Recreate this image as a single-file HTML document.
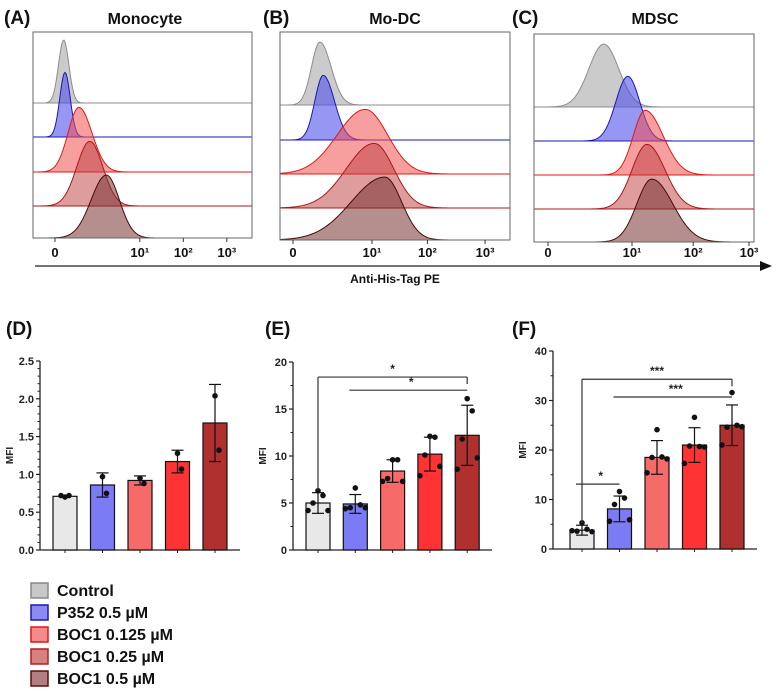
<!DOCTYPE html>
<html><head><meta charset="utf-8">
<style>
html,body{margin:0;padding:0;background:#fff;}
svg{display:block;font-family:"Liberation Sans",Arial,sans-serif;}
</style></head>
<body>
<svg id="fig" width="777" height="699" viewBox="0 0 777 699" xmlns="http://www.w3.org/2000/svg"></svg>
<script>
// ===== Histogram data (display units, peak height in row-units) =====
const histSeries = ["Control","P352 0.5 µM","BOC1 0.125 µM","BOC1 0.25 µM","BOC1 0.5 µM"];
const histCentersA = [0.2, 0.23, 0.55, 0.8, 1.18];
const histCentersB = [0.48, 0.54, 1.29, 1.45, 1.64];
const histCentersC = [0.93, 1.33, 1.62, 1.65, 1.73];
const histSigLA = [0.12, 0.12, 0.25, 0.3, 0.35];
const histSigRA = [0.12, 0.12, 0.3, 0.3, 0.3];
const histSigLB = [0.15, 0.15, 0.5, 0.5, 0.6];
const histSigRB = [0.2, 0.2, 0.4, 0.35, 0.3];
const histSigLC = [0.25, 0.2, 0.2, 0.25, 0.25];
const histSigRC = [0.25, 0.2, 0.3, 0.3, 0.35];
const histHeights = [1.85, 1.9, 1.9, 1.9, 1.85];
const tickLabels = ["0","10¹","10²","10³"];
const tickUA = [0, 1.95, 2.95, 3.95];
const tickUB = [0, 1.41, 2.4, 3.43];
const tickUC = [0, 1.4, 2.42, 3.35];

// ===== Bar chart data =====
const groups = ["Control","P352 0.5 µM","BOC1 0.125 µM","BOC1 0.25 µM","BOC1 0.5 µM"];
const meanD = [0.71, 0.86, 0.92, 1.17, 1.68];
const sdD = [0.01, 0.16, 0.06, 0.15, 0.51];
const ptsD = [[0.70,0.72,0.72],[0.97,0.75],[0.95,0.88],[1.28,1.07],[2.04,1.32]];
const ticksD = [0, 0.5, 1.0, 1.5, 2.0, 2.5];
const tickLabD = ["0.0","0.5","1.0","1.5","2.0","2.5"];
const meanE = [5.0, 4.9, 8.4, 10.2, 12.2];
const sdE = [1.1, 1.0, 1.2, 1.8, 3.2];
const ptsE = [[6.3,5.8,5.0,4.2,4.2],[6.6,4.8,4.5,4.5,4.4],[9.6,9.6,7.6,7.3,7.3],[12.1,12.0,10.1,8.9,7.9],[16.1,14.8,11.8,9.8,8.6]];
const ticksE = [0,5,10,15,20];
const meanF = [3.8, 8.1, 18.5, 21.0, 25.0];
const sdF = [1.0, 2.6, 3.4, 3.5, 4.1];
const ptsF = [[5.3,4.0,3.6,3.5,3.7],[11.6,10.3,9.0,5.9,5.6],[24.1,18.6,18.5,18.2,15.4],[26.6,20.7,20.8,20.6,17.3],[31.6,25.0,24.6,24.7,21.0]];
const ticksF = [0,10,20,30,40];
const sigE = [[0,4,18.4,"*",true],[1,4,17.0,"*",false]];
const sigF = [[0,4,34.3,"***",true],[1,4,30.7,"***",false],[0,1,13.1,"*",false]];

const NS="http://www.w3.org/2000/svg";
const svg=document.getElementById('fig');
function mk(tag,attrs,parent){const e=document.createElementNS(NS,tag);for(const k in attrs)e.setAttribute(k,attrs[k]);(parent||svg).appendChild(e);return e;}
function txt(s,x,y,attrs,parent){const e=mk('text',Object.assign({x:x,y:y},attrs),parent);e.textContent=s;return e;}

const fills=["rgba(185,185,185,0.75)","rgba(80,80,235,0.6)","rgba(240,80,80,0.55)","rgba(190,60,60,0.5)","rgba(120,50,50,0.55)"];
const strokes=["#8c8c8c","#1a1ab0","#e01818","#a81818","#4a0a0a"];
const barFills=["#e8e8e8","#7b7bf5","#f76a6a","#ff3333","#b03030"];

// ===== Histogram panels =====
const panels=[
 {lab:"(A)",labx:4,title:"Monocyte",tx:145,x1:33,x2:252,y1:32,y2:238,x0:55,dec:43.5,rows:[103,137,172,206,238],c:histCentersA,sl:histSigLA,sr:histSigRA,t:tickUA,name:"monocyte"},
 {lab:"(B)",labx:263,title:"Mo-DC",tx:395,x1:280,x2:510,y1:32,y2:240,x0:293,dec:56,rows:[105,140,174,208,240],c:histCentersB,sl:histSigLB,sr:histSigRB,t:tickUB,name:"mo-dc"},
 {lab:"(C)",labx:512,title:"MDSC",tx:655,x1:534,x2:754,y1:34,y2:242,x0:548,dec:60,rows:[107,141,175,209,242],c:histCentersC,sl:histSigLC,sr:histSigRC,t:tickUC,name:"mdsc"}
];
panels.forEach(p=>{
  const g=mk('g',{});
  
  
  const l=txt(p.lab,p.labx,24,{'font-size':19,'font-weight':'bold',fill:'#111'},g);
  
  const t=txt(p.title,p.tx,24,{'font-size':16,'font-weight':'bold','text-anchor':'middle',fill:'#111'},g);
  
  const xs=u=>p.x0+u*p.dec;
  const rowH=34;
  for(let i=0;i<5;i++){
    const base=p.rows[i];
    let d="M"+p.x1+","+base;
    for(let x=p.x1;x<=p.x2;x+=1){
      const u=(x-p.x0)/p.dec;const s=u<p.c[i]?p.sl[i]:p.sr[i];
      const h=histHeights[i]*rowH*Math.exp(-0.5*Math.pow((u-p.c[i])/s,2));
      d+=" L"+x+","+(base-h).toFixed(2);
    }
    d+=" L"+p.x2+","+base+" Z";
    const path=mk('path',{d:d,fill:fills[i],stroke:strokes[i],'stroke-width':1},g);
    
    
  }
  const box=mk('rect',{x:p.x1,y:p.y1,width:p.x2-p.x1,height:p.y2-p.y1,fill:'none',stroke:'#666','stroke-width':1},g);
  
  p.t.forEach((u,k)=>{
    const x=xs(u);
    mk('line',{x1:x,x2:x,y1:p.y2,y2:p.y2+4,stroke:'#333'},g);
    const tl=txt(tickLabels[k],x,257,{'font-size':13,'font-weight':'bold','text-anchor':'middle',fill:'#111'},g);
    
  });
});
const ax=mk('line',{x1:35,x2:762,y1:266,y2:266,stroke:'#222','stroke-width':1.2});

mk('polygon',{points:"760,261 772,266 760,271",fill:'#111'});
const xl=txt("Anti-His-Tag PE",395,283,{'font-size':12,'font-weight':'bold','text-anchor':'middle',fill:'#111'});


// ===== Bar charts =====
function barChart(o){
  const g=mk('g',{});
  
  
  const ys=v=>o.y0-(v/o.max)*(o.y0-o.ytop);
  const xs=i=>o.cx0+i*o.step;
  const l=txt(o.lab,o.labx,335,{'font-size':19,'font-weight':'bold',fill:'#111'},g);
  
  mk('line',{x1:o.ax,x2:o.ax,y1:o.ytop,y2:o.y0,stroke:'#222','stroke-width':1.3},g);
  mk('line',{x1:o.ax,x2:o.xend,y1:o.y0,y2:o.y0,stroke:'#222','stroke-width':1.3},g);
  // minor ticks
  for(let k=0;k<o.ticks.length-1;k++){
    for(let m=1;m<o.minor;m++){const v=o.ticks[k]+(o.ticks[k+1]-o.ticks[k])*m/o.minor;
      mk('line',{x1:o.ax-2.5,x2:o.ax,y1:ys(v),y2:ys(v),stroke:'#222'},g);}
  }
  o.ticks.forEach((v,k)=>{
    mk('line',{x1:o.ax-4,x2:o.ax,y1:ys(v),y2:ys(v),stroke:'#222','stroke-width':1.2},g);
    const t=txt(o.labels[k],o.ax-6,ys(v)+4,{'font-size':11,'font-weight':'bold','text-anchor':'end',fill:'#222'},g);
    
  });
  const yl=txt("MFI",0,0,{'font-size':10,'font-weight':'bold','text-anchor':'middle',fill:'#222',transform:`translate(${o.ax-27},${(o.y0+o.ytop)/2}) rotate(-90)`},g);
  
  o.mean.forEach((v,i)=>{
    const x=xs(i);
    mk('line',{x1:x,x2:x,y1:o.y0,y2:o.y0+3,stroke:'#222'},g);
    const b=mk('rect',{x:x-12,y:ys(v),width:24,height:o.y0-ys(v),fill:barFills[i],stroke:'#111','stroke-width':1.2},g);
    
    const hi=ys(v+o.sd[i]),lo=ys(v-o.sd[i]);
    mk('line',{x1:x,x2:x,y1:hi,y2:lo,stroke:'#111','stroke-width':1.2},g);
    mk('line',{x1:x-6,x2:x+6,y1:hi,y2:hi,stroke:'#111','stroke-width':1.2},g);
    mk('line',{x1:x-6,x2:x+6,y1:lo,y2:lo,stroke:'#111','stroke-width':1.2},g);
    const n=o.pts[i].length;
    o.pts[i].forEach((pv,j)=>{
      const off=n===1?0:(j%2===0?-1:1)*Math.ceil(j/2)*5*(n>3?1:0.8)*(j===0?0:1);
      const c=mk('circle',{cx:x+off,cy:ys(pv),r:2.8,fill:'#111'},g);
      
    });
  });
  (o.sig||[]).forEach(s=>{
    const xa=xs(s[0]),xb=xs(s[1]),y=ys(s[2]);
    const ln=mk('line',{x1:xa+(s[4]?0:-6),x2:xb,y1:y,y2:y,stroke:'#333','stroke-width':1.2},g);
    
    if(s[4]){
      mk('line',{x1:xa,x2:xa,y1:y,y2:ys(o.mean[s[0]]+o.sd[s[0]])-2,stroke:'#333','stroke-width':1.2},g);
      mk('line',{x1:xb,x2:xb,y1:y,y2:y+7,stroke:'#333','stroke-width':1.2},g);
    }
    const st=txt(s[3],(xa+xb)/2,y-4,{'font-size':12,'font-weight':'bold','text-anchor':'middle',fill:'#222'},g);
    
  });
}
barChart({name:'monocyte-mfi-chart',lab:'(D)',labx:6,ax:40,xend:240,y0:550,ytop:361,max:2.5,ticks:ticksD,labels:tickLabD,minor:5,cx0:65,step:37.5,mean:meanD,sd:sdD,pts:ptsD});
barChart({name:'modc-mfi-chart',lab:'(E)',labx:265,ax:293,xend:492,y0:550,ytop:362,max:20,ticks:ticksE,labels:ticksE.map(String),minor:2,cx0:318,step:37.3,mean:meanE,sd:sdE,pts:ptsE,sig:sigE});
barChart({name:'mdsc-mfi-chart',lab:'(F)',labx:512,ax:553,xend:757,y0:549,ytop:351,max:40,ticks:ticksF,labels:ticksF.map(String),minor:2,cx0:582,step:37.5,mean:meanF,sd:sdF,pts:ptsF,sig:sigF});

// ===== Legend =====
const lg=mk('g',{});


const legFill=["#c8c8c8","#8a8af0","#f58a8a","#d88080","#b08080"];
const legStroke=["#888","#1a1ab0","#e01818","#b02020","#5a1010"];
groups.forEach((gname,i)=>{
  const y=583+i*22;
  const r=mk('rect',{x:31,y:y,width:17,height:15,fill:legFill[i],stroke:legStroke[i],'stroke-width':1.5},lg);
  
  const t=txt(gname,57,y+13,{'font-size':16,'font-weight':'bold',fill:'#111'},lg);
  
});
</script>
</body></html>
